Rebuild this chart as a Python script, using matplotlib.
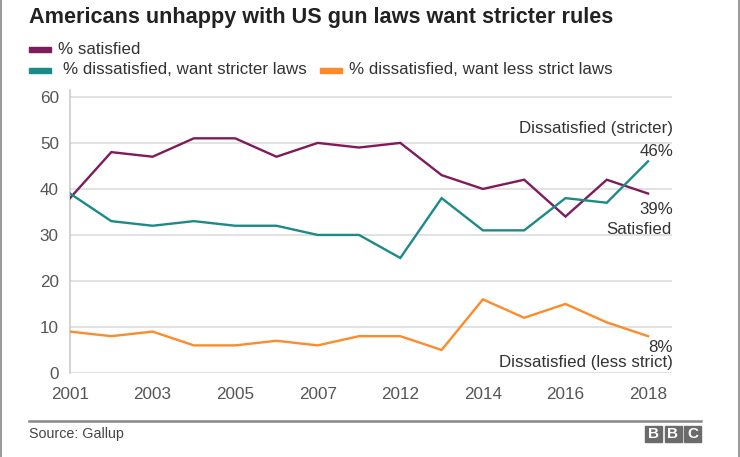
import matplotlib
matplotlib.use("Agg")
import matplotlib.pyplot as plt
from matplotlib.patches import Rectangle
from matplotlib.lines import Line2D

plt.rcParams['font.family'] = ['Liberation Sans', 'DejaVu Sans']

years = ["2001", "2002", "2003", "2004", "2005", "2006", "2007", "2008",
         "2012", "2013", "2014", "2015", "2016", "2017", "2018"]
satisfied = [38, 48, 47, 51, 51, 47, 50, 49, 50, 43, 40, 42, 34, 42, 39]
stricter = [39, 33, 32, 33, 32, 32, 30, 30, 25, 38, 31, 31, 38, 37, 46]
less_strict = [9, 8, 9, 6, 6, 7, 6, 8, 8, 5, 16, 12, 15, 11, 8]
tick_labels = ["2001", "2003", "2005", "2007", "2012", "2014", "2016", "2018"]
yticks = [0, 10, 20, 30, 40, 50, 60]

PURPLE = "#7f1a5c"
TEAL = "#1c8a86"
ORANGE = "#fd8b2b"

W, H = 740, 457
fig = plt.figure(figsize=(W / 100, H / 100), dpi=100)
fig.patch.set_facecolor("white")

def fx(x):
    return x / W

def fy(y):
    return 1 - y / H

ax = fig.add_axes([fx(70), fy(373), (672 - 70) / W, (373 - 90) / H])
x = list(range(len(years)))
ax.plot(x, satisfied, color=PURPLE, lw=1.7, solid_joinstyle='miter', zorder=3)
ax.plot(x, stricter, color=TEAL, lw=1.7, solid_joinstyle='miter', zorder=3)
ax.plot(x, less_strict, color=ORANGE, lw=1.7, solid_joinstyle='miter', zorder=3)

ax.set_xlim(0, 14.58)
ax.set_ylim(0, 61.5)
ax.set_yticks(yticks)
ax.set_yticklabels([str(v) for v in yticks])
ax.set_xticks([years.index(t) for t in tick_labels])
ax.set_xticklabels(tick_labels)
ax.tick_params(axis='both', length=0, labelsize=12.3, labelcolor="#555555")
ax.tick_params(axis='y', pad=8)
ax.tick_params(axis='x', pad=10)
for s in ['top', 'right', 'bottom']:
    ax.spines[s].set_visible(False)
ax.spines['left'].set_color("#cccccc")
ax.spines['left'].set_linewidth(1.2)
ax.grid(axis='y', color="#dddddd", lw=1.2)
ax.set_axisbelow(True)
ax.set_facecolor("white")

# annotations
def ann(xp, yp, s):
    fig.text(fx(xp), fy(yp), s, ha='right', va='center', fontsize=12.2, color="#333333")

ann(673, 128, "Dissatisfied (stricter)")
ann(673, 151, "46%")
ann(673, 210, "39%")
ann(672, 230, "Satisfied")
ann(673, 347, "8%")
ann(673, 363, "Dissatisfied (less strict)")

# title
fig.text(fx(29), fy(17), "Americans unhappy with US gun laws want stricter rules",
         ha='left', va='center', fontsize=15.6, fontweight='bold', color="#222222")

# legend
def swatch(x0, y0, color):
    fig.patches.append(Rectangle((fx(x0), fy(y0 + 2.5)), 22 / W, 5 / H,
                                 transform=fig.transFigure, color=color))

swatch(29, 49, PURPLE)
fig.text(fx(58), fy(49), "% satisfied", ha='left', va='center', fontsize=12.2, color="#333333")
swatch(29, 70, TEAL)
fig.text(fx(63), fy(70), "% dissatisfied, want stricter laws", ha='left', va='center',
         fontsize=12.2, color="#333333")
swatch(320, 70, ORANGE)
fig.text(fx(349), fy(70), "% dissatisfied, want less strict laws", ha='left', va='center',
         fontsize=12.2, color="#333333")

# footer
fig.lines.append(Line2D([fx(29), fx(701)], [fy(421), fy(421)], transform=fig.transFigure,
                        color="#888888", lw=1.8))
fig.text(fx(29), fy(434), "Source: Gallup", ha='left', va='center', fontsize=10.3, color="#444444")
for i, letter in enumerate("BBC"):
    bx = 645 + i * 19.5
    fig.patches.append(Rectangle((fx(bx), fy(442)), 17 / W, 16 / H,
                                 transform=fig.transFigure, color="#6b6b6b"))
    fig.text(fx(bx + 8.5), fy(434), letter, ha='center', va='center', fontsize=11,
             fontweight='bold', color="white")

# borders
fig.lines.append(Line2D([fx(0.8), fx(0.8)], [0, 1], transform=fig.transFigure, color="#888888", lw=1.2))
fig.lines.append(Line2D([fx(738.5), fx(738.5)], [0, 1], transform=fig.transFigure, color="#888888", lw=1.2))

fig.savefig("out.png", dpi=100, facecolor="white")
